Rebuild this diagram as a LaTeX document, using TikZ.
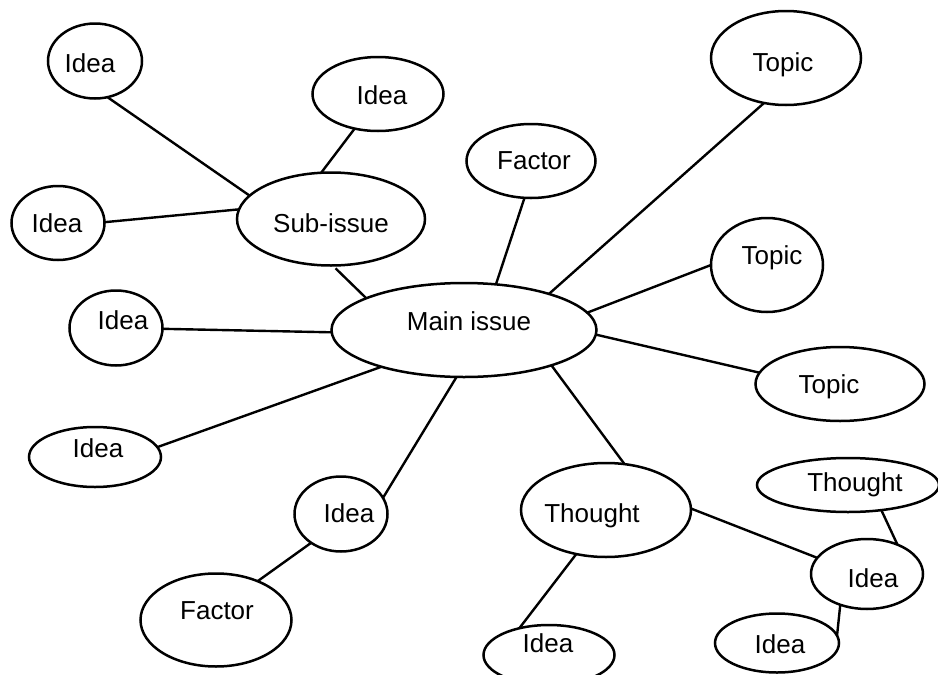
\documentclass[tikz,border=0pt]{standalone}
\usepackage{fontspec}
\setmainfont{Liberation Sans}
\usetikzlibrary{shapes.geometric}
\begin{document}
\begin{tikzpicture}[x=1pt,y=-1pt,
  bubble/.style={ellipse, draw, line width=2.5pt, inner sep=0pt, outer sep=0pt},
  txt/.style={font=\fontsize{26}{30}\selectfont, text height=18.6pt, text depth=0pt, inner sep=0pt},
  link/.style={line width=2.4pt}]
\useasboundingbox (0,0) rectangle (938,675);
\newcommand\mybub[8]{%
  \node[bubble, minimum width=#4pt, minimum height=#5pt,
        label={[txt, xshift=#6pt, yshift=#7pt]center:#8}] (#1) at (#2,#3) {};}
\mybub{ideaTL}{95}{61}{94}{75}{-5}{-2}{Idea}
\mybub{ideaTM}{378}{94}{131}{74}{4}{-1}{Idea}
\mybub{ideaL}{58}{223}{93}{74}{-1}{0}{Idea}
\mybub{sub}{331}{219}{188}{93}{0}{-4}{Sub-issue}
\mybub{ideaML}{116}{328}{93}{75}{7}{8}{Idea}
\mybub{main}{464}{330}{265}{94}{5}{9}{Main issue}
\mybub{factorT}{531}{161}{129}{74}{3}{1}{Factor}
\mybub{topicT}{786}{58}{150}{94}{-3}{-4}{Topic}
\mybub{topicM}{767}{265}{112}{94}{5}{10}{Topic}
\mybub{topicR}{840}{384}{169}{74}{-11}{0}{Topic}
\mybub{ideaBL}{95}{457}{132}{60}{3}{9}{Idea}
\mybub{ideaLM}{341}{514}{93}{75}{8}{1}{Idea}
\mybub{factorB}{216}{620}{151}{93}{1}{10}{Factor}
\mybub{thoughtM}{606}{510}{170}{94}{-14}{-3}{Thought}
\mybub{thoughtR}{848}{485}{182}{54}{7}{3}{Thought}
\mybub{ideaR}{867}{574}{112}{70}{6}{-4}{Idea}
\mybub{ideaBM}{549}{655}{131}{60}{-1}{12}{Idea}
\mybub{ideaBR}{777}{643}{124}{59}{3}{-1}{Idea}
% connectors
\draw[link] (ideaTL.-71) -- (sub.164);
\draw[link] (ideaTM.-124) -- (sub.102);
\draw[link] (ideaL.1) -- (sub.174);
\draw[link, shorten <=4pt] (sub.-88) -- (main.162);
\draw[link] (ideaML.-1) -- (main.-179);
\draw[link] (factorT.-100) -- (main.55);
\draw[link] (topicT.-116) -- (main.23);
\draw[link] (topicM.180) -- (main.8);
\draw[link] (main.-2) -- (topicR.172);
\draw[link] (main.-156) -- (ideaBL.9);
\draw[link] (main.-99) -- (ideaLM.21);
\draw[link] (ideaLM.-136) -- (factorB.43);
\draw[link] (main.-22) -- (thoughtM.68);
\draw[link] (thoughtM.1) -- (ideaR.162);
\draw[link] (thoughtM.-124) -- (ideaBM.138);
\draw[link] (thoughtR.-37) -- (ideaR.44);
\draw[link] (ideaR.-131) -- (ideaBR.7);
\end{tikzpicture}
\end{document}
